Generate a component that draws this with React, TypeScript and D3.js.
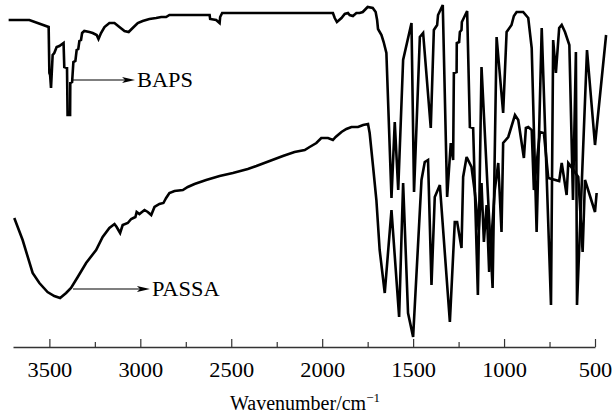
import React, { useEffect, useRef } from 'react'
import * as d3 from 'd3'

const W = 613
const H = 413

// BAPS spectrum: wavenumber (cm-1) and transmittance (arb. units)
const bapsWave = [3724, 3610, 3504, 3500, 3496, 3491, 3482, 3473, 3460, 3445, 3422, 3418, 3403, 3400, 3386, 3385, 3375, 3368, 3357, 3350, 3341, 3335, 3326, 3320, 3308, 3280, 3262, 3240, 3230, 3216, 3197, 3170, 3142, 3115, 3087, 3064, 3042, 3014, 2987, 2950, 2913, 2885, 2858, 2840, 2619, 2616, 2583, 2564, 2561, 2550, 1941, 1931, 1919, 1894, 1876, 1858, 1849, 1831, 1812, 1794, 1777, 1750, 1722, 1706, 1698, 1693, 1674, 1662, 1647, 1619, 1601, 1582, 1555, 1509, 1495, 1463, 1445, 1403, 1386, 1368, 1363, 1337, 1313, 1293, 1280, 1276, 1261, 1260, 1247, 1243, 1234, 1232, 1203, 1188, 1170, 1144, 1124, 1063, 1041, 1005, 986, 959, 946, 931, 895, 867, 848, 821, 793, 742, 730, 715, 697, 683, 665, 641, 621, 605, 599, 544, 500, 439]
const bapsT = [327, 327, 320, 274, 272, 259, 292, 294, 300, 301, 304, 280, 279, 232, 232, 264, 265, 285, 286, 297, 298, 306, 307, 314, 316, 315, 314, 312, 308, 314, 320, 324, 324, 320, 316, 315, 319, 324, 326, 328, 329, 330, 330, 332, 332, 328, 327, 324, 330, 334, 334, 329, 325, 329, 333, 334, 332, 331, 334, 334, 335, 340, 339, 335, 327, 318, 312, 305, 294, 149, 225, 157, 287, 324, 155, 310, 314, 219, 317, 322, 332, 342, 150, 204, 187, 274, 275, 304, 305, 315, 317, 325, 336, 220, 219, 52, 280, 59, 310, 234, 315, 322, 331, 335, 335, 329, 299, 115, 319, 42, 307, 274, 319, 322, 315, 302, 147, 295, 42, 297, 202, 312]

// PASSA spectrum
const passaWave = [3693, 3647, 3592, 3555, 3510, 3473, 3441, 3408, 3381, 3344, 3298, 3243, 3207, 3170, 3142, 3130, 3111, 3097, 3069, 3050, 3027, 3020, 3005, 2977, 2959, 2940, 2922, 2895, 2873, 2858, 2840, 2812, 2766, 2739, 2702, 2638, 2564, 2491, 2409, 2362, 2289, 2216, 2152, 2096, 2069, 2032, 2005, 1968, 1941, 1926, 1894, 1867, 1839, 1803, 1775, 1748, 1739, 1720, 1702, 1684, 1656, 1619, 1577, 1555, 1528, 1500, 1454, 1436, 1418, 1399, 1381, 1353, 1298, 1271, 1258, 1234, 1225, 1206, 1179, 1161, 1139, 1124, 1111, 1096, 1082, 1051, 1032, 1014, 1005, 977, 940, 922, 891, 880, 867, 848, 836, 803, 781, 757, 697, 683, 656, 647, 638, 592, 568, 555, 500, 491]
const passaT = [129, 107, 74, 64, 55, 51, 49, 54, 59, 70, 84, 97, 110, 119, 123, 120, 114, 122, 124, 128, 130, 135, 133, 137, 135, 132, 140, 143, 144, 149, 154, 156, 157, 160, 163, 167, 171, 174, 178, 181, 186, 191, 195, 197, 200, 204, 209, 209, 207, 210, 215, 218, 220, 220, 222, 223, 214, 180, 147, 97, 54, 137, 30, 164, 34, 10, 167, 185, 187, 62, 150, 162, 25, 125, 125, 99, 170, 190, 180, 155, 117, 164, 105, 142, 75, 157, 184, 115, 204, 210, 232, 227, 189, 219, 220, 217, 157, 215, 214, 169, 166, 184, 152, 184, 182, 170, 95, 167, 135, 154]

const majorTicks = [3500, 3000, 2500, 2000, 1500, 1000, 500]
const minorTicks = [3250, 2750, 2250, 1750, 1250, 750]
const seriesNames = ['BAPS', 'PASSA']
// where the label arrows start / end (wavenumber) and their height (transmittance)
const arrowFrom = [3370, 3370]
const arrowTo = [3029, 2947]
const arrowLevel = [267, 58]
const xTitle = 'Wavenumber/cm'

const font = "'Liberation Serif', 'Times New Roman', serif"

export default function App() {
  const ref = useRef<SVGSVGElement>(null)

  useEffect(() => {
    const svg = d3.select(ref.current)
    svg.selectAll('*').remove()

    const x = d3.scaleLinear().domain([3700, 500]).range([13, 595])
    const y = d3.scaleLinear().domain([0, 347]).range([347, 0])

    // minor ticks
    const gMinor = svg.append('g').attr('transform', `translate(0,${y(0)})`)
    gMinor.call(d3.axisBottom(x).tickValues(minorTicks).tickSizeInner(-5).tickSizeOuter(0).tickFormat(() => ''))
    gMinor.select('.domain').remove()
    gMinor.selectAll('line').attr('stroke', '#333').attr('stroke-width', 1.2)

    const gx = svg.append('g').attr('transform', `translate(0,${y(0)})`)
    gx.call(d3.axisBottom(x).tickValues(majorTicks).tickSizeInner(-8).tickSizeOuter(0).tickPadding(16).tickFormat(d3.format('d')))
    gx.attr('font-family', font).attr('font-size', 20)
    gx.select('.domain').attr('stroke', '#333').attr('stroke-width', 1.4)
    gx.selectAll('line').attr('stroke', '#333').attr('stroke-width', 1.2)
    gx.selectAll('text')
      .attr('font-family', font)
      .attr('font-size', 20)
      .attr('fill', '#000')
      .attr('transform', 'scale(1.12,1)')

    const title = svg.append('text')
      .attr('x', 305)
      .attr('y', 410)
      .attr('text-anchor', 'middle')
      .attr('font-family', font)
      .attr('font-size', 20)
      .attr('fill', '#000')
    title.append('tspan').text(xTitle)
    title.append('tspan').attr('font-size', 13).attr('dy', -8).text('\u22121')

    const line = d3.line<[number, number]>()
      .x(d => x(d[0]))
      .y(d => y(d[1]))

    const series = [
      d3.zip(bapsWave, bapsT) as [number, number][],
      d3.zip(passaWave, passaT) as [number, number][]
    ]
    series.forEach(s => {
      svg.append('path')
        .attr('d', line(s))
        .attr('fill', 'none')
        .attr('stroke', '#000')
        .attr('stroke-width', 2.6)
        .attr('stroke-linejoin', 'miter')
        .attr('stroke-miterlimit', 3)
    })

    // labels with arrows
    seriesNames.forEach((name, i) => {
      const x0 = x(arrowFrom[i])
      const x1 = x(arrowTo[i])
      const yy = y(arrowLevel[i])
      svg.append('line')
        .attr('x1', x0).attr('x2', x1 - 10)
        .attr('y1', yy).attr('y2', yy)
        .attr('stroke', '#000').attr('stroke-width', 1.1)
      svg.append('path')
        .attr('d', `M${x1},${yy}L${x1 - 13},${yy - 3}L${x1 - 10},${yy}L${x1 - 13},${yy + 3}Z`)
        .attr('fill', '#000')
      svg.append('text')
        .attr('x', x1 + 2)
        .attr('y', yy + 7)
        .attr('font-family', font)
        .attr('font-size', 20)
        .attr('fill', '#000')
        .attr('transform', `translate(${x1 + 2},0) scale(1.12,1) translate(${-(x1 + 2)},0)`)
        .text(name)
    })
  }, [])

  return (
    <svg ref={ref} width={W} height={H} style={{ position: 'absolute', left: 0, top: 0, background: '#fff' }} />
  )
}
